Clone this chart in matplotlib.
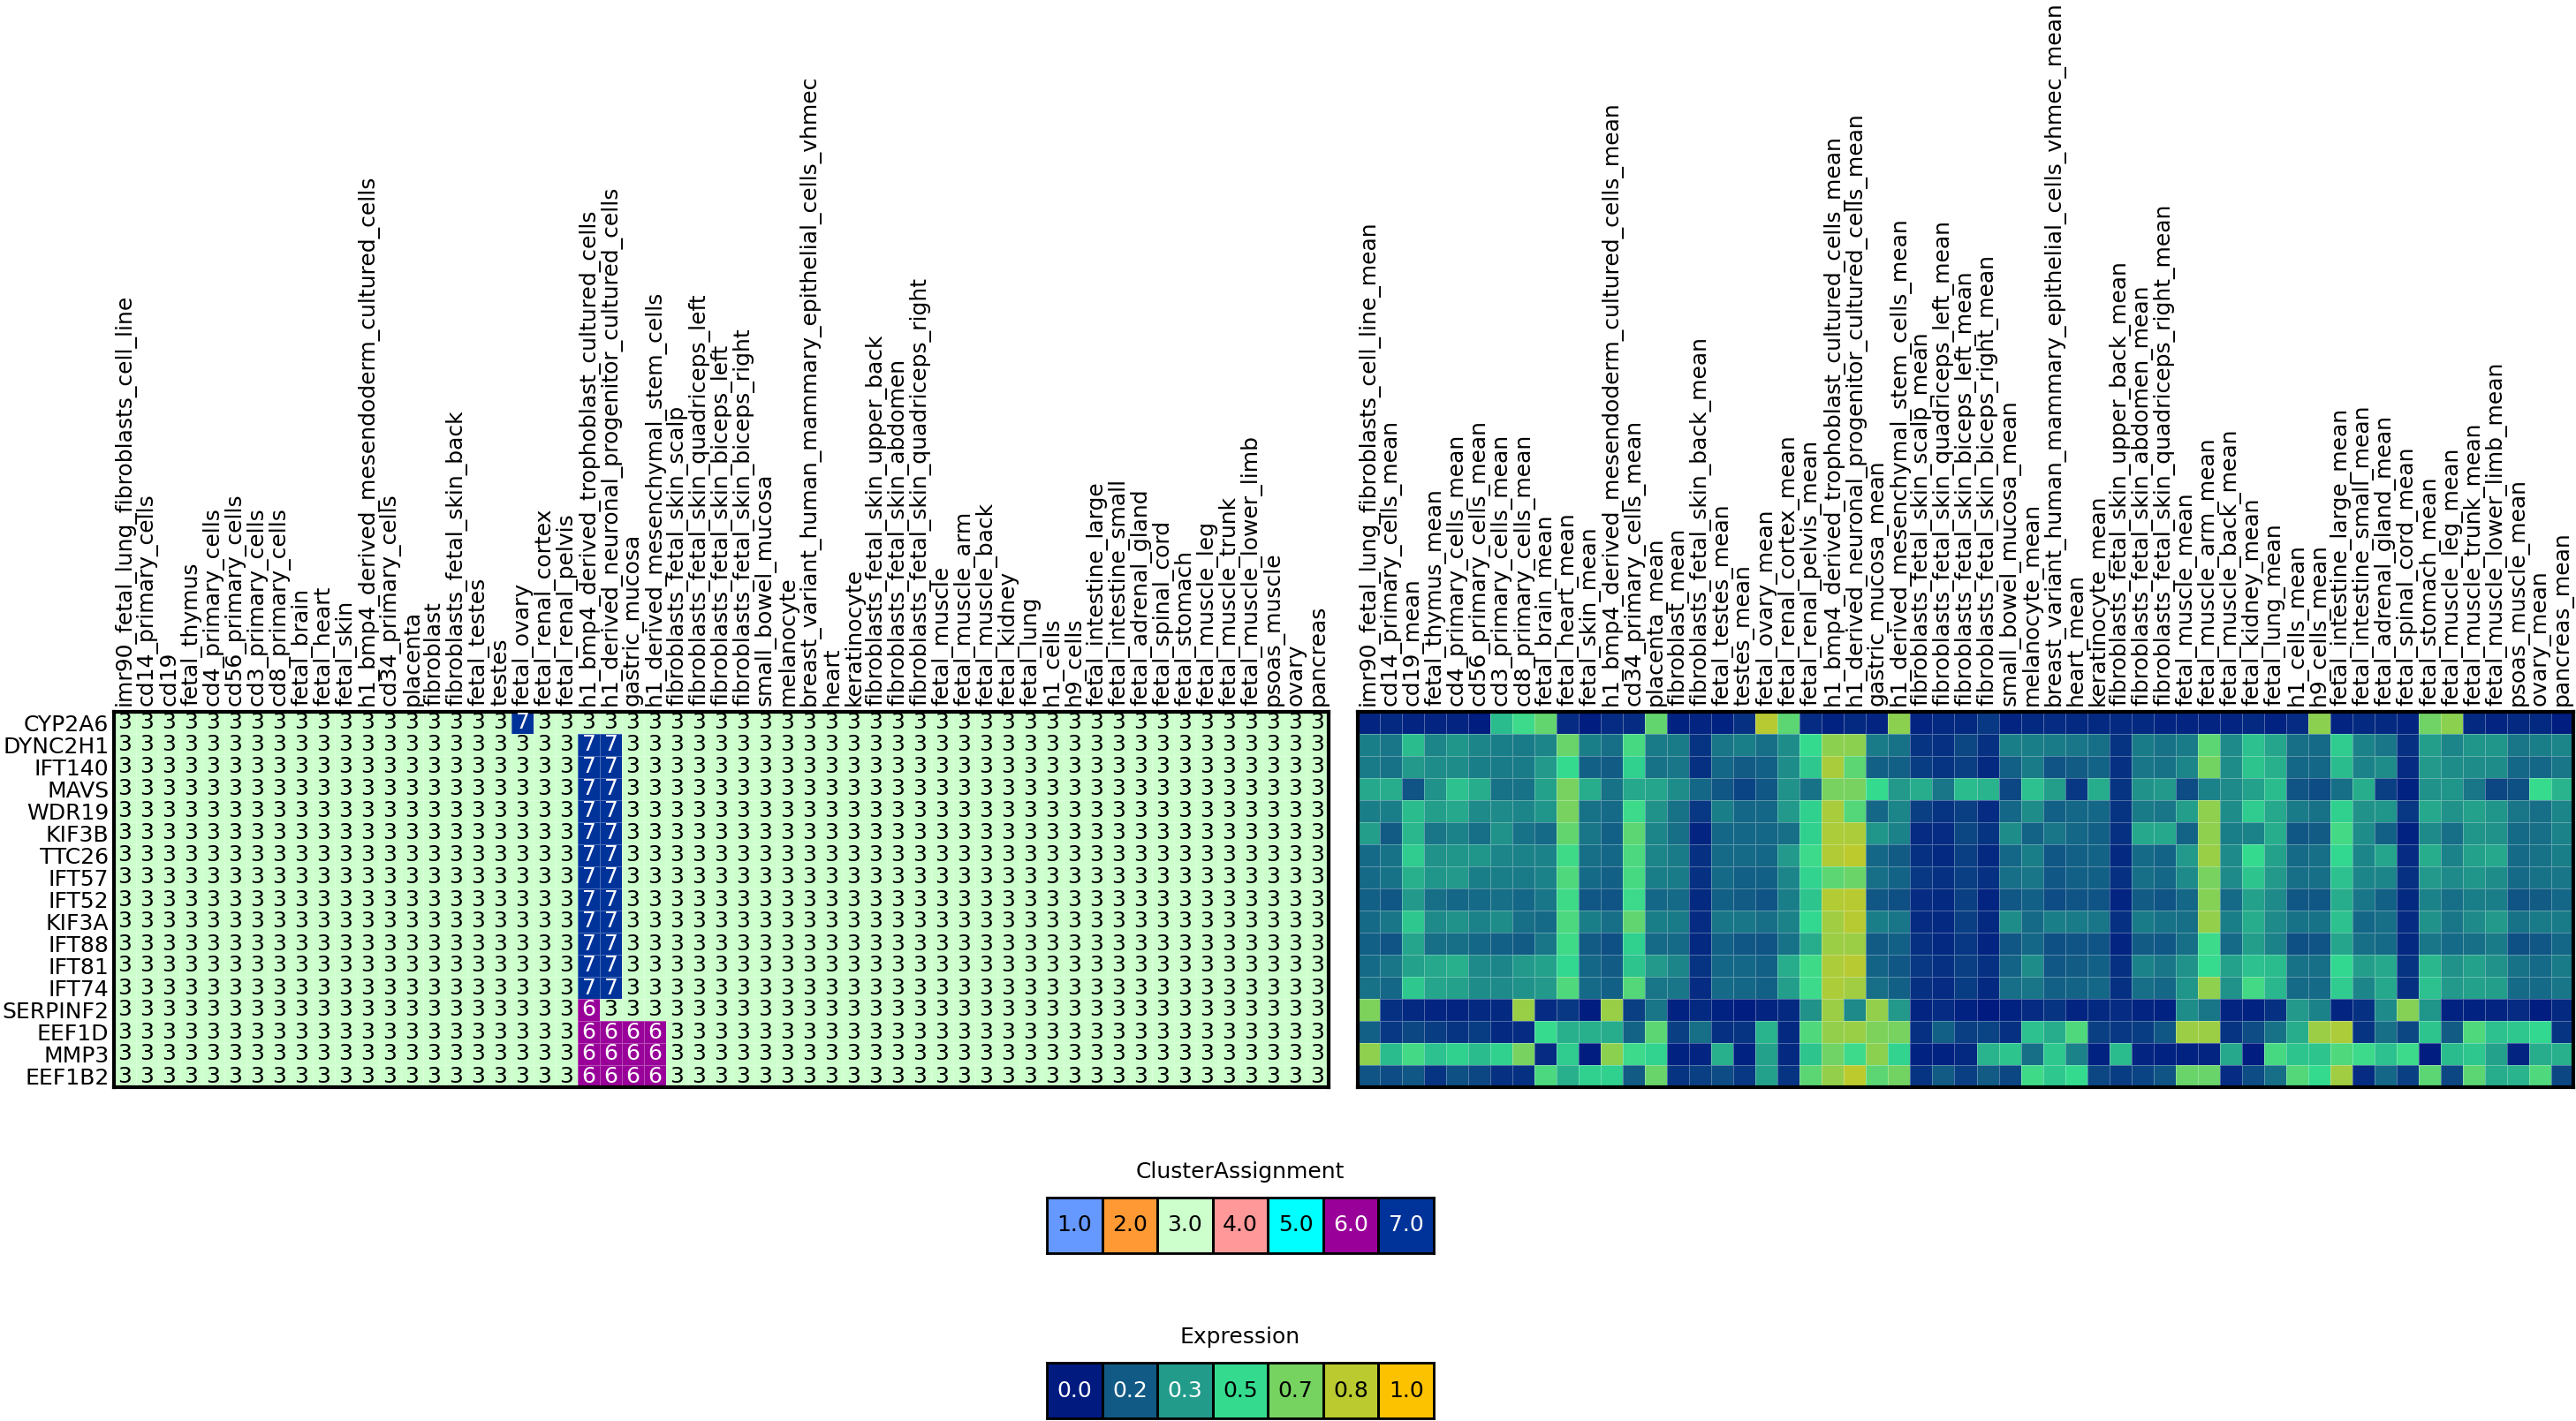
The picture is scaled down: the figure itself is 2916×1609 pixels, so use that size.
import numpy as np
import matplotlib
matplotlib.use("Agg")
import matplotlib.pyplot as plt
from matplotlib.colors import ListedColormap, LinearSegmentedColormap

genes = ["CYP2A6", "DYNC2H1", "IFT140", "MAVS", "WDR19", "KIF3B", "TTC26",
         "IFT57", "IFT52", "KIF3A", "IFT88", "IFT81", "IFT74", "SERPINF2",
         "EEF1D", "MMP3", "EEF1B2"]

tissues = [
    "imr90_fetal_lung_fibroblasts_cell_line", "cd14_primary_cells", "cd19",
    "fetal_thymus", "cd4_primary_cells", "cd56_primary_cells", "cd3_primary_cells",
    "cd8_primary_cells", "fetal_brain", "fetal_heart", "fetal_skin",
    "h1_bmp4_derived_mesendoderm_cultured_cells", "cd34_primary_cells", "placenta",
    "fibroblast", "fibroblasts_fetal_skin_back", "fetal_testes", "testes",
    "fetal_ovary", "fetal_renal_cortex", "fetal_renal_pelvis",
    "h1_bmp4_derived_trophoblast_cultured_cells",
    "h1_derived_neuronal_progenitor_cultured_cells", "gastric_mucosa",
    "h1_derived_mesenchymal_stem_cells", "fibroblasts_fetal_skin_scalp",
    "fibroblasts_fetal_skin_quadriceps_left", "fibroblasts_fetal_skin_biceps_left",
    "fibroblasts_fetal_skin_biceps_right", "small_bowel_mucosa", "melanocyte",
    "breast_variant_human_mammary_epithelial_cells_vhmec", "heart", "keratinocyte",
    "fibroblasts_fetal_skin_upper_back", "fibroblasts_fetal_skin_abdomen",
    "fibroblasts_fetal_skin_quadriceps_right", "fetal_muscle", "fetal_muscle_arm",
    "fetal_muscle_back", "fetal_kidney", "fetal_lung", "h1_cells", "h9_cells",
    "fetal_intestine_large", "fetal_intestine_small", "fetal_adrenal_gland",
    "fetal_spinal_cord", "fetal_stomach", "fetal_muscle_leg", "fetal_muscle_trunk",
    "fetal_muscle_lower_limb", "psoas_muscle", "ovary", "pancreas"]
tissues_mean = [t + "_mean" for t in tissues]

# cluster assignment per gene (one digit per tissue)
clusters = [
    "3333333333333333337333333333333333333333333333333333333",
    "3333333333333333333337733333333333333333333333333333333",
    "3333333333333333333337733333333333333333333333333333333",
    "3333333333333333333337733333333333333333333333333333333",
    "3333333333333333333337733333333333333333333333333333333",
    "3333333333333333333337733333333333333333333333333333333",
    "3333333333333333333337733333333333333333333333333333333",
    "3333333333333333333337733333333333333333333333333333333",
    "3333333333333333333337733333333333333333333333333333333",
    "3333333333333333333337733333333333333333333333333333333",
    "3333333333333333333337733333333333333333333333333333333",
    "3333333333333333333337733333333333333333333333333333333",
    "3333333333333333333337733333333333333333333333333333333",
    "3333333333333333333336333333333333333333333333333333333",
    "3333333333333333333336666333333333333333333333333333333",
    "3333333333333333333336666333333333333333333333333333333",
    "3333333333333333333336666333333333333333333333333333333",
]

expr_CYP2A6 = [0.03, 0.04, 0.03, 0.03, 0.03, 0.01, 0.42, 0.52, 0.62, 0.05, 0.01,
               0.05, 0.05, 0.62, 0.02, 0.03, 0.02, 0.06, 0.83, 0.60, 0.05, 0.02,
               0.04, 0.03, 0.72, 0.03, 0.04, 0.04, 0.08, 0.03, 0.04, 0.05, 0.04,
               0.04, 0.04, 0.04, 0.03, 0.03, 0.03, 0.03, 0.04, 0.02, 0.05, 0.72,
               0.03, 0.04, 0.04, 0.03, 0.65, 0.72, 0.04, 0.03, 0.04, 0.04, 0.01]
expr_DYNC2H1 = [0.26, 0.24, 0.42, 0.28, 0.32, 0.28, 0.26, 0.25, 0.28, 0.63, 0.26,
                0.22, 0.55, 0.25, 0.25, 0.07, 0.24, 0.26, 0.22, 0.30, 0.50, 0.72,
                0.72, 0.25, 0.23, 0.07, 0.06, 0.12, 0.06, 0.26, 0.26, 0.25, 0.24,
                0.22, 0.07, 0.25, 0.23, 0.25, 0.60, 0.29, 0.43, 0.36, 0.22, 0.21,
                0.46, 0.27, 0.24, 0.06, 0.34, 0.28, 0.32, 0.32, 0.24, 0.26, 0.28]
expr_IFT140 = [0.25, 0.23, 0.33, 0.30, 0.30, 0.26, 0.25, 0.25, 0.33, 0.50, 0.18,
               0.17, 0.47, 0.23, 0.24, 0.06, 0.20, 0.17, 0.18, 0.30, 0.45, 0.79,
               0.60, 0.18, 0.18, 0.09, 0.07, 0.10, 0.04, 0.18, 0.25, 0.15, 0.17,
               0.19, 0.06, 0.24, 0.23, 0.28, 0.66, 0.30, 0.44, 0.39, 0.20, 0.20,
               0.42, 0.27, 0.30, 0.05, 0.33, 0.30, 0.30, 0.30, 0.20, 0.20, 0.24]
expr_MAVS = [0.37, 0.38, 0.15, 0.31, 0.43, 0.38, 0.23, 0.23, 0.35, 0.67, 0.38,
             0.23, 0.37, 0.36, 0.30, 0.20, 0.16, 0.11, 0.16, 0.31, 0.23, 0.67,
             0.67, 0.50, 0.33, 0.38, 0.24, 0.42, 0.40, 0.12, 0.43, 0.34, 0.08,
             0.38, 0.07, 0.31, 0.33, 0.13, 0.27, 0.29, 0.35, 0.42, 0.15, 0.13,
             0.22, 0.38, 0.10, 0.02, 0.31, 0.32, 0.24, 0.12, 0.14, 0.51, 0.40]
expr_WDR19 = [0.26, 0.26, 0.42, 0.34, 0.37, 0.29, 0.29, 0.28, 0.32, 0.67, 0.23,
              0.21, 0.52, 0.31, 0.23, 0.08, 0.26, 0.20, 0.20, 0.33, 0.47, 0.79,
              0.58, 0.20, 0.28, 0.10, 0.07, 0.10, 0.05, 0.20, 0.30, 0.18, 0.20,
              0.20, 0.07, 0.25, 0.24, 0.34, 0.73, 0.30, 0.46, 0.37, 0.25, 0.23,
              0.47, 0.31, 0.32, 0.08, 0.37, 0.31, 0.35, 0.32, 0.24, 0.22, 0.28]
expr_KIF3B = [0.34, 0.17, 0.41, 0.24, 0.27, 0.22, 0.31, 0.23, 0.21, 0.62, 0.24,
              0.18, 0.60, 0.28, 0.22, 0.03, 0.20, 0.20, 0.20, 0.22, 0.47, 0.80,
              0.80, 0.32, 0.27, 0.05, 0.05, 0.12, 0.07, 0.30, 0.19, 0.24, 0.20,
              0.18, 0.06, 0.37, 0.37, 0.19, 0.73, 0.26, 0.27, 0.38, 0.16, 0.17,
              0.54, 0.30, 0.18, 0.02, 0.29, 0.22, 0.32, 0.31, 0.21, 0.22, 0.27]
expr_TTC26 = [0.21, 0.23, 0.46, 0.31, 0.32, 0.32, 0.28, 0.27, 0.27, 0.53, 0.22,
              0.20, 0.56, 0.28, 0.25, 0.06, 0.21, 0.21, 0.20, 0.33, 0.52, 0.81,
              0.84, 0.20, 0.17, 0.06, 0.04, 0.10, 0.04, 0.20, 0.26, 0.16, 0.18,
              0.19, 0.04, 0.21, 0.19, 0.33, 0.75, 0.29, 0.50, 0.35, 0.21, 0.22,
              0.49, 0.28, 0.36, 0.05, 0.38, 0.27, 0.35, 0.37, 0.21, 0.23, 0.26]
expr_IFT57 = [0.21, 0.23, 0.39, 0.32, 0.33, 0.26, 0.26, 0.25, 0.27, 0.57, 0.21,
              0.18, 0.55, 0.26, 0.25, 0.06, 0.21, 0.18, 0.18, 0.28, 0.48, 0.60,
              0.64, 0.22, 0.19, 0.08, 0.06, 0.10, 0.06, 0.22, 0.24, 0.16, 0.18,
              0.18, 0.06, 0.22, 0.20, 0.29, 0.67, 0.29, 0.44, 0.33, 0.22, 0.22,
              0.43, 0.28, 0.28, 0.06, 0.33, 0.29, 0.32, 0.30, 0.21, 0.23, 0.24]
expr_IFT52 = [0.18, 0.16, 0.33, 0.22, 0.20, 0.21, 0.22, 0.20, 0.24, 0.53, 0.16,
              0.15, 0.52, 0.20, 0.21, 0.04, 0.18, 0.17, 0.15, 0.26, 0.44, 0.82,
              0.83, 0.16, 0.14, 0.05, 0.04, 0.10, 0.03, 0.16, 0.18, 0.13, 0.15,
              0.15, 0.03, 0.17, 0.15, 0.20, 0.70, 0.21, 0.35, 0.29, 0.16, 0.16,
              0.38, 0.24, 0.18, 0.04, 0.27, 0.22, 0.26, 0.26, 0.15, 0.17, 0.20]
expr_KIF3A = [0.21, 0.24, 0.45, 0.29, 0.31, 0.27, 0.30, 0.22, 0.21, 0.56, 0.26,
              0.22, 0.61, 0.26, 0.25, 0.05, 0.24, 0.24, 0.22, 0.27, 0.49, 0.77,
              0.83, 0.26, 0.24, 0.05, 0.04, 0.10, 0.04, 0.30, 0.21, 0.26, 0.25,
              0.24, 0.06, 0.25, 0.23, 0.22, 0.74, 0.26, 0.38, 0.29, 0.23, 0.23,
              0.43, 0.20, 0.22, 0.05, 0.31, 0.24, 0.29, 0.33, 0.23, 0.25, 0.25]
expr_IFT88 = [0.18, 0.15, 0.36, 0.22, 0.22, 0.20, 0.18, 0.17, 0.24, 0.53, 0.17,
              0.14, 0.47, 0.21, 0.21, 0.04, 0.18, 0.16, 0.15, 0.23, 0.38, 0.76,
              0.76, 0.17, 0.18, 0.06, 0.04, 0.08, 0.03, 0.16, 0.20, 0.14, 0.15,
              0.15, 0.03, 0.17, 0.16, 0.22, 0.52, 0.21, 0.34, 0.27, 0.14, 0.15,
              0.36, 0.22, 0.21, 0.04, 0.24, 0.21, 0.22, 0.25, 0.14, 0.16, 0.20]
expr_IFT81 = [0.21, 0.24, 0.35, 0.37, 0.39, 0.29, 0.28, 0.33, 0.35, 0.49, 0.20,
              0.17, 0.44, 0.33, 0.28, 0.07, 0.20, 0.20, 0.18, 0.38, 0.53, 0.80,
              0.83, 0.19, 0.16, 0.08, 0.06, 0.10, 0.06, 0.19, 0.30, 0.16, 0.17,
              0.18, 0.06, 0.27, 0.24, 0.31, 0.51, 0.35, 0.43, 0.42, 0.23, 0.22,
              0.49, 0.34, 0.37, 0.07, 0.41, 0.31, 0.35, 0.31, 0.23, 0.21, 0.25]
expr_IFT74 = [0.23, 0.20, 0.45, 0.36, 0.35, 0.30, 0.29, 0.31, 0.33, 0.57, 0.21,
              0.18, 0.58, 0.24, 0.24, 0.05, 0.21, 0.20, 0.18, 0.34, 0.52, 0.80,
              0.77, 0.22, 0.18, 0.06, 0.05, 0.09, 0.04, 0.22, 0.24, 0.18, 0.19,
              0.20, 0.06, 0.22, 0.20, 0.32, 0.73, 0.31, 0.54, 0.41, 0.21, 0.21,
              0.46, 0.28, 0.37, 0.06, 0.43, 0.33, 0.35, 0.34, 0.21, 0.21, 0.24]
expr_SERPINF2 = [0.68, 0.06, 0.04, 0.03, 0.03, 0.04, 0.04, 0.75, 0.05, 0.08, 0.01,
                 0.75, 0.10, 0.24, 0.02, 0.04, 0.02, 0.01, 0.03, 0.04, 0.31, 0.76,
                 0.29, 0.74, 0.33, 0.03, 0.05, 0.02, 0.00, 0.02, 0.05, 0.07, 0.03,
                 0.04, 0.05, 0.03, 0.02, 0.30, 0.24, 0.03, 0.02, 0.06, 0.33, 0.27,
                 0.03, 0.06, 0.29, 0.70, 0.32, 0.02, 0.02, 0.03, 0.05, 0.01, 0.04]
expr_EEF1D = [0.18, 0.08, 0.12, 0.09, 0.07, 0.09, 0.04, 0.05, 0.51, 0.39, 0.39,
              0.38, 0.19, 0.60, 0.10, 0.22, 0.06, 0.07, 0.40, 0.04, 0.57, 0.74,
              0.75, 0.68, 0.67, 0.06, 0.18, 0.10, 0.11, 0.06, 0.43, 0.38, 0.57,
              0.10, 0.08, 0.09, 0.16, 0.76, 0.76, 0.07, 0.13, 0.23, 0.38, 0.76,
              0.80, 0.07, 0.22, 0.12, 0.44, 0.17, 0.57, 0.43, 0.45, 0.49, 0.07]
expr_MMP3 = [0.73, 0.42, 0.54, 0.43, 0.47, 0.42, 0.47, 0.67, 0.05, 0.46, 0.01,
             0.72, 0.52, 0.48, 0.02, 0.03, 0.39, 0.02, 0.35, 0.04, 0.44, 0.65,
             0.52, 0.72, 0.48, 0.02, 0.02, 0.04, 0.40, 0.44, 0.22, 0.45, 0.27,
             0.02, 0.42, 0.03, 0.02, 0.02, 0.03, 0.37, 0.01, 0.55, 0.44, 0.44,
             0.57, 0.52, 0.43, 0.52, 0.01, 0.42, 0.45, 0.35, 0.03, 0.38, 0.39]
expr_EEF1B2 = [0.15, 0.13, 0.16, 0.07, 0.14, 0.12, 0.06, 0.06, 0.56, 0.39, 0.47,
               0.47, 0.17, 0.63, 0.07, 0.10, 0.13, 0.08, 0.35, 0.07, 0.60, 0.74,
               0.84, 0.60, 0.66, 0.07, 0.17, 0.10, 0.17, 0.12, 0.53, 0.45, 0.50,
               0.12, 0.09, 0.11, 0.15, 0.63, 0.63, 0.05, 0.13, 0.22, 0.58, 0.50,
               0.77, 0.05, 0.20, 0.10, 0.60, 0.12, 0.60, 0.38, 0.40, 0.57, 0.12]

cluster_levels = [1.0, 2.0, 3.0, 4.0, 5.0, 6.0, 7.0]
expr_levels = [0.0, 1 / 6, 2 / 6, 3 / 6, 4 / 6, 5 / 6, 1.0]

cluster_colors = ["#6699ff", "#ff9933", "#ccffcc", "#ff9999", "#00ffff", "#990099", "#003399"]
cluster_cmap = ListedColormap(cluster_colors)
expr_cmap = LinearSegmentedColormap.from_list("expr", ["#001a80", "#33db90", "#fcc200"])

C = np.array([[int(ch) for ch in row] for row in clusters])
E = np.array([expr_CYP2A6, expr_DYNC2H1, expr_IFT140, expr_MAVS, expr_WDR19,
              expr_KIF3B, expr_TTC26, expr_IFT57, expr_IFT52, expr_KIF3A,
              expr_IFT88, expr_IFT81, expr_IFT74, expr_SERPINF2, expr_EEF1D,
              expr_MMP3, expr_EEF1B2])

W, H = 2916, 1609
FS = 18


def box(x0, y0, x1, y1):
    return [x0 / W, 1 - y1 / H, (x1 - x0) / W, (y1 - y0) / H]


def style_heatmap(ax, xlabels, ylabels=None):
    nr, nc = len(genes), len(xlabels)
    ax.set_xlim(0, nc)
    ax.set_ylim(nr, 0)
    ax.xaxis.tick_top()
    ax.set_xticks(np.arange(nc) + 0.5)
    ax.set_xticklabels(xlabels, rotation=90, fontsize=FS)
    if ylabels is not None:
        ax.set_yticks(np.arange(nr) + 0.5)
        ax.set_yticklabels(ylabels, fontsize=FS)
    else:
        ax.set_yticks([])
    ax.tick_params(axis="x", length=0, pad=5)
    ax.tick_params(axis="y", length=0, pad=4)
    for s in ax.spines.values():
        s.set_linewidth(3)


fig = plt.figure(figsize=(W / 100, H / 100), dpi=100)

# cluster heatmap
ax1 = fig.add_axes(box(129, 806, 1504, 1231))
ax1.pcolormesh(C, cmap=cluster_cmap, vmin=0.5, vmax=7.5,
               edgecolors=(1, 1, 1, 0.3), linewidth=0.6)
for i in range(C.shape[0]):
    for j in range(C.shape[1]):
        v = C[i, j]
        ax1.text(j + 0.5, i + 0.5, str(v), ha="center", va="center", fontsize=FS,
                 color="white" if v >= 6 else "black")
style_heatmap(ax1, tissues, genes)

# expression heatmap
ax2 = fig.add_axes(box(1537, 806, 2913, 1231))
ax2.pcolormesh(E, cmap=expr_cmap, vmin=0, vmax=1,
               edgecolors=(1, 1, 1, 0.3), linewidth=0.6)
style_heatmap(ax2, tissues_mean)


def legend(rect, title, levels, cmap, vmin, vmax, white_idx):
    ax = fig.add_axes(box(*rect))
    ax.pcolormesh(np.array([levels]), cmap=cmap, vmin=vmin, vmax=vmax,
                  edgecolors="black", linewidth=2)
    for k, v in enumerate(levels):
        ax.text(k + 0.5, 0.5, f"{v:.1f}", ha="center", va="center", fontsize=FS,
                color="white" if k in white_idx else "black")
    ax.set_xlim(0, len(levels))
    ax.set_ylim(0, 1)
    ax.set_xticks([])
    ax.set_yticks([])
    for s in ax.spines.values():
        s.set_linewidth(2)
    cx = (rect[0] + rect[2]) / 2
    fig.text(cx / W, 1 - (rect[1] - 29) / H, title, ha="center", va="center", fontsize=FS)


legend((1185, 1356, 1623, 1419), "ClusterAssignment", cluster_levels,
       cluster_cmap, 0.5, 7.5, (5, 6))
legend((1185, 1543, 1623, 1606), "Expression", expr_levels,
       expr_cmap, 0, 1, (0, 1, 2))

fig.savefig("out.png", dpi=100)
